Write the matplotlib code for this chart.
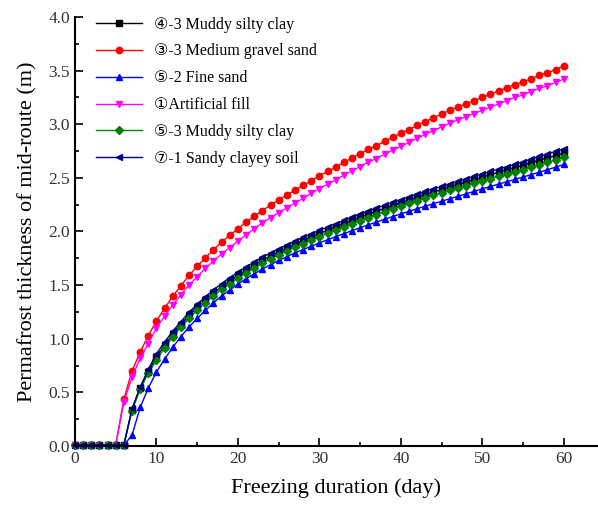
import numpy as np
import matplotlib.pyplot as plt
from matplotlib.ticker import MultipleLocator

plt.rcParams['font.family'] = ['Liberation Serif', 'DejaVu Sans']

# Тривалість промерзання, доби
days = list(range(0, 61))

# Товщина мерзлого ґрунту (м)
zeros6 = [0.01] * 6
zeros7 = [0.01] * 7

medium_gravel_sand = zeros6 + [
    0.435, 0.70, 0.875, 1.03, 1.165, 1.285, 1.395, 1.495, 1.59, 1.675,
    1.755, 1.83, 1.90, 1.965, 2.025, 2.085, 2.14, 2.195, 2.245, 2.295,
    2.34, 2.385, 2.43, 2.475, 2.52, 2.56, 2.60, 2.645, 2.685, 2.725,
    2.765, 2.80, 2.84, 2.878, 2.915, 2.95, 2.99, 3.025, 3.06, 3.095,
    3.13, 3.16, 3.19, 3.22, 3.25, 3.28, 3.31, 3.34, 3.37, 3.395,
    3.425, 3.455, 3.48, 3.51, 3.54]

artificial_fill = zeros6 + [
    0.41, 0.64, 0.82, 0.955, 1.10, 1.21, 1.315, 1.41, 1.50, 1.58,
    1.655, 1.725, 1.79, 1.85, 1.91, 1.97, 2.025, 2.08, 2.13, 2.175,
    2.22, 2.265, 2.31, 2.355, 2.40, 2.44, 2.48, 2.525, 2.565, 2.605,
    2.645, 2.68, 2.72, 2.758, 2.795, 2.83, 2.87, 2.905, 2.94, 2.975,
    3.01, 3.04, 3.07, 3.10, 3.13, 3.16, 3.19, 3.22, 3.25, 3.275,
    3.305, 3.335, 3.36, 3.39, 3.42]

muddy_silty_clay_4 = zeros7 + [
    0.34, 0.54, 0.69, 0.83, 0.94, 1.04, 1.13, 1.215, 1.29, 1.36,
    1.425, 1.485, 1.54, 1.59, 1.64, 1.685, 1.73, 1.77, 1.81, 1.845,
    1.88, 1.915, 1.948, 1.98, 2.012, 2.043, 2.073, 2.103, 2.132, 2.16,
    2.188, 2.215, 2.242, 2.268, 2.293, 2.318, 2.343, 2.367, 2.39, 2.414,
    2.438, 2.461, 2.484, 2.507, 2.53, 2.552, 2.574, 2.596, 2.618, 2.642,
    2.665, 2.686, 2.708, 2.73]

fine_sand = zeros7 + [
    0.10, 0.36, 0.54, 0.69, 0.81, 0.92, 1.02, 1.11, 1.19, 1.265,
    1.335, 1.40, 1.455, 1.51, 1.56, 1.605, 1.65, 1.69, 1.73, 1.765,
    1.80, 1.832, 1.863, 1.893, 1.923, 1.952, 1.98, 2.008, 2.035, 2.062,
    2.088, 2.114, 2.139, 2.164, 2.188, 2.212, 2.236, 2.259, 2.282, 2.305,
    2.328, 2.351, 2.374, 2.397, 2.42, 2.442, 2.464, 2.486, 2.508, 2.53,
    2.553, 2.576, 2.60, 2.625]

muddy_silty_clay_5 = zeros7 + [
    0.33, 0.53, 0.68, 0.80, 0.915, 1.015, 1.105, 1.19, 1.265, 1.335,
    1.40, 1.46, 1.515, 1.565, 1.615, 1.66, 1.705, 1.745, 1.785, 1.82,
    1.855, 1.885, 1.918, 1.95, 1.982, 2.013, 2.043, 2.073, 2.102, 2.13,
    2.158, 2.185, 2.212, 2.238, 2.263, 2.288, 2.313, 2.337, 2.36, 2.383,
    2.406, 2.428, 2.45, 2.472, 2.494, 2.515, 2.536, 2.557, 2.578, 2.60,
    2.622, 2.645, 2.667, 2.69]

sandy_clayey_soil = zeros7 + [
    0.35, 0.55, 0.715, 0.86, 0.97, 1.07, 1.16, 1.245, 1.32, 1.39,
    1.455, 1.515, 1.57, 1.62, 1.67, 1.715, 1.76, 1.80, 1.84, 1.875,
    1.91, 1.945, 1.978, 2.01, 2.042, 2.073, 2.103, 2.133, 2.162, 2.19,
    2.218, 2.245, 2.272, 2.298, 2.323, 2.348, 2.373, 2.397, 2.42, 2.444,
    2.468, 2.491, 2.514, 2.537, 2.56, 2.582, 2.604, 2.626, 2.65, 2.675,
    2.70, 2.722, 2.746, 2.77]

series = [
    ('④-3 Muddy silty clay', muddy_silty_clay_4, 'black', 's'),
    ('③-3 Medium gravel sand', medium_gravel_sand, 'red', 'o'),
    ('⑤-2 Fine sand', fine_sand, 'blue', '^'),
    ('①Artificial fill', artificial_fill, 'magenta', 'v'),
    ('⑤-3 Muddy silty clay', muddy_silty_clay_5, 'green', 'D'),
    ('⑦-1 Sandy clayey soil', sandy_clayey_soil, 'navy', '<'),
]

fig = plt.figure(figsize=(5.98, 5.07), dpi=100)
ax = fig.add_axes([0.1254, 0.1203, 0.8746, 0.8462])

for label, vals, color, marker in series:
    ms = 3.8 if marker == 'D' else 4.6
    ax.plot(days, vals, color=color, marker=marker, markersize=ms,
            linewidth=1, label=label, clip_on=False)

ax.set_xlim(0, 64.2)
ax.set_ylim(0, 4.0)
ax.xaxis.set_major_locator(MultipleLocator(10))
ax.xaxis.set_minor_locator(MultipleLocator(5))
ax.yaxis.set_major_locator(MultipleLocator(0.5))
ax.yaxis.set_minor_locator(MultipleLocator(0.25))
ax.yaxis.set_major_formatter(plt.FuncFormatter(lambda v, p: f'{v:.1f}'))

ax.spines['top'].set_visible(False)
ax.spines['right'].set_visible(False)
ax.spines['left'].set_linewidth(1.5)
ax.spines['bottom'].set_linewidth(1.5)
ax.tick_params(which='both', direction='in', width=1.2, labelsize=12.5,
               labelcolor='#333333')
ax.tick_params(which='major', length=6)
ax.tick_params(which='minor', length=3)

ax.set_xlabel('Freezing duration (day)', fontsize=16, labelpad=8)
ax.set_ylabel('Permafrost thickness of mid-route (m)', fontsize=16, labelpad=8)

ax.legend(loc='upper left', bbox_to_anchor=(0.028, 1.016), frameon=False,
          fontsize=11.5, handlelength=2.9, handletextpad=0.75,
          labelspacing=0.68, borderaxespad=0.0)

fig.savefig('out.png', dpi=100)
